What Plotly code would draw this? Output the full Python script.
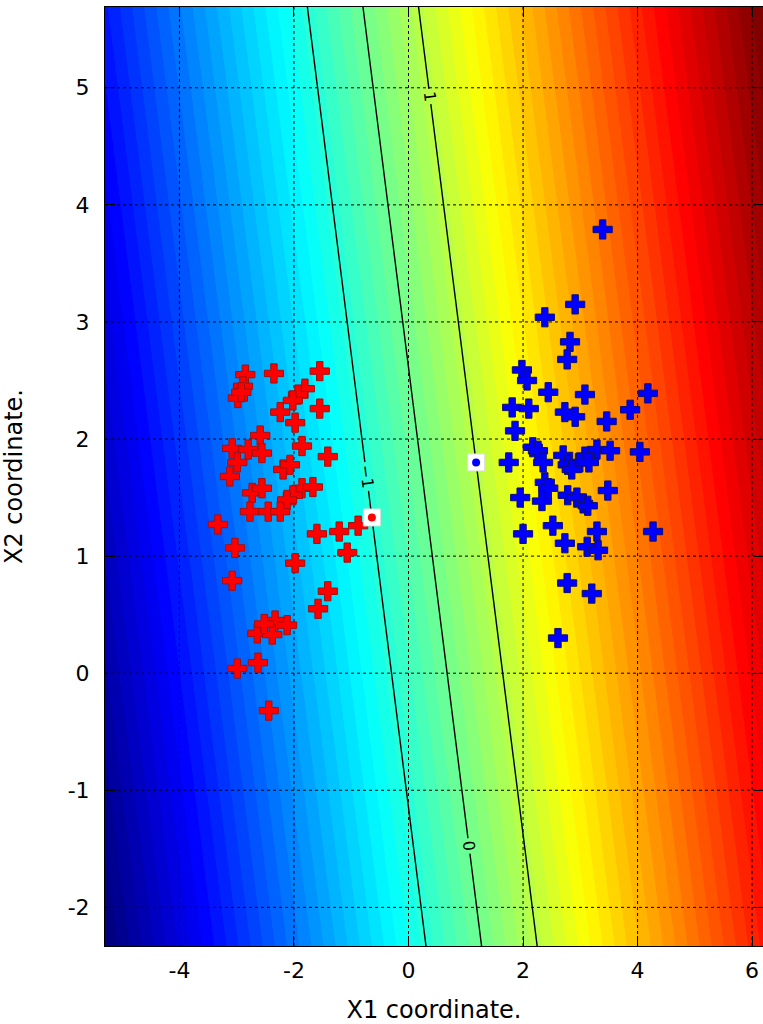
import numpy as np
import plotly.graph_objects as go

# ---------------- data ----------------
red_x = [-2.85, -2.35, -1.55, -2.89, -2.98, -2.92, -1.81, -1.93, -2.02, -2.24,
         -1.55, -1.98, -2.59, -3.08, -2.80, -2.56, -1.86, -1.41, -2.99, -3.12,
         -2.19, -2.07, -2.73, -2.56, -1.86, -1.67, -2.02, -2.12, -2.77, -2.45,
         -2.24, -3.33, -1.60, -1.21, -0.88, -3.03, -1.07, -1.98, -3.08, -1.41,
         -1.58, -2.33, -2.12, -2.64, -2.38, -2.52, -2.63, -2.99, -2.44]
red_y = [2.55, 2.56, 2.58, 2.45, 2.35, 2.40, 2.43, 2.38, 2.33, 2.23,
         2.26, 2.14, 2.03, 1.92, 1.91, 1.88, 1.94, 1.85, 1.80, 1.68,
         1.74, 1.78, 1.54, 1.58, 1.58, 1.59, 1.52, 1.48, 1.38, 1.38,
         1.38, 1.27, 1.19, 1.21, 1.26, 1.07, 1.03, 0.94, 0.79, 0.70,
         0.55, 0.45, 0.41, 0.34, 0.33, 0.42, 0.09, 0.04, -0.32]

blue_x = [3.39, 2.91, 2.38, 2.82, 2.77, 1.98, 2.07, 2.44, 3.08, 4.18,
          1.81, 2.10, 2.73, 2.91, 3.87, 3.46, 1.86, 2.17, 2.26, 2.70,
          3.29, 3.52, 4.04, 3.08, 2.99, 2.35, 2.78, 3.15, 1.75, 2.85,
          2.38, 2.44, 3.48, 1.95, 2.33, 2.78, 2.94, 3.05, 3.13, 2.52,
          3.29, 2.00, 4.27, 2.73, 3.12, 3.31, 2.77, 3.20, 2.61]
blue_y = [3.79, 3.15, 3.04, 2.83, 2.68, 2.59, 2.50, 2.40, 2.38, 2.39,
          2.27, 2.26, 2.23, 2.19, 2.25, 2.15, 2.07, 1.93, 1.90, 1.86,
          1.91, 1.90, 1.89, 1.85, 1.80, 1.80, 1.78, 1.80, 1.80, 1.74,
          1.63, 1.58, 1.56, 1.50, 1.47, 1.52, 1.50, 1.45, 1.43, 1.26,
          1.21, 1.19, 1.21, 1.11, 1.08, 1.05, 0.77, 0.68, 0.30]

# support vectors (white squares)
sv_x = [-0.64, 1.18]
sv_y = [1.33, 1.80]
sv_colors = ["#ff0000", "#0000ff"]

# decision-function contour levels drawn as lines
contour_levels = [-1, 0, 1]
n_color_levels = 64

x_range = [-5.30, 6.19]
y_range = [-2.33, 5.69]
x_tick_vals = [-4, -2, 0, 2, 4, 6]
x_tick_text = ["-4", "-2", "0", "2", "4", "6"]
y_tick_vals = [-2, -1, 0, 1, 2, 3, 4, 5]
y_tick_text = ["-2", "-1", "0", "1", "2", "3", "4", "5"]

x_title = "X1 coordinate."
y_title = "X2 coordinate."

# ---------------- linear SVM decision function from the two support vectors ----------------
p_r = np.array([sv_x[0], sv_y[0]])
p_b = np.array([sv_x[1], sv_y[1]])
d = p_b - p_r
w = 2 * d / np.dot(d, d)
mid = (p_b + p_r) / 2

gx = np.linspace(x_range[0], x_range[1], 160)
gy = np.linspace(y_range[0], y_range[1], 160)
GX, GY = np.meshgrid(gx, gy)
Z = w[0] * (GX - mid[0]) + w[1] * (GY - mid[1])
zmin, zmax = float(Z.min()), float(Z.max())
step = (zmax - zmin) / n_color_levels

jet = [[0.0, "rgb(0,0,128)"], [0.125, "rgb(0,0,255)"], [0.375, "rgb(0,255,255)"],
       [0.5, "rgb(128,255,128)"], [0.625, "rgb(255,255,0)"], [0.875, "rgb(255,0,0)"],
       [1.0, "rgb(128,0,0)"]]

fig = go.Figure()

fig.add_trace(go.Contour(
    x=gx, y=gy, z=Z, colorscale=jet, zmin=zmin, zmax=zmax, zauto=False,
    autocontour=False,
    contours=dict(start=zmin + step, end=zmax - step * 0.5, size=step,
                  coloring="fill", showlines=False),
    line=dict(width=0), showscale=False, hoverinfo="skip"))

# dotted grid drawn above the colour field
gxs, gys = [], []
for v in x_tick_vals:
    gxs += [v, v, None]
    gys += [y_range[0], y_range[1], None]
for v in y_tick_vals:
    gxs += [x_range[0], x_range[1], None]
    gys += [v, v, None]
fig.add_trace(go.Scatter(x=gxs, y=gys, mode="lines",
                         line=dict(color="black", width=1, dash="dot"),
                         hoverinfo="skip", showlegend=False))

fig.add_trace(go.Contour(
    x=gx, y=gy, z=Z, autocontour=False,
    contours=dict(start=min(contour_levels), end=max(contour_levels), size=1,
                  coloring="none", showlabels=True,
                  labelfont=dict(size=16, color="black", family="DejaVu Sans")),
    line=dict(color="black", width=1.4), showscale=False, hoverinfo="skip"))

fig.add_trace(go.Scatter(x=red_x, y=red_y, mode="markers",
                         marker=dict(symbol="cross", size=16, color="#ff0000",
                                     line=dict(color="#a01010", width=1)),
                         showlegend=False))
fig.add_trace(go.Scatter(x=blue_x, y=blue_y, mode="markers",
                         marker=dict(symbol="cross", size=16, color="#0000ff",
                                     line=dict(color="#10106a", width=1)),
                         showlegend=False))

fig.add_trace(go.Scatter(x=sv_x, y=sv_y, mode="markers",
                         marker=dict(symbol="square", size=17, color="white",
                                     line=dict(color="#dddddd", width=1)),
                         showlegend=False))
fig.add_trace(go.Scatter(x=sv_x, y=sv_y, mode="markers",
                         marker=dict(symbol="circle", size=8, color=sv_colors),
                         showlegend=False))

font = dict(family="DejaVu Sans", size=22, color="black")
fig.update_layout(
    width=763, height=1024,
    margin=dict(l=105, r=0, t=7, b=78, autoexpand=False),
    paper_bgcolor="white", plot_bgcolor="white",
    font=font, showlegend=False,
    xaxis=dict(range=x_range, tickvals=x_tick_vals, ticktext=x_tick_text,
               ticks="inside", ticklen=10, tickcolor="black", tickwidth=1,
               showline=True, linecolor="black", linewidth=1, mirror="ticks",
               showgrid=False, zeroline=False, layer="above traces",
               ticklabelstandoff=5, automargin=False,
               title=dict(text=x_title, font=dict(size=24, family="DejaVu Sans"),
                          standoff=20)),
    yaxis=dict(range=y_range, tickvals=y_tick_vals, ticktext=y_tick_text,
               ticks="inside", ticklen=10, tickcolor="black", tickwidth=1,
               showline=True, linecolor="black", linewidth=1, mirror="ticks",
               showgrid=False, zeroline=False, layer="above traces",
               ticklabelstandoff=10, automargin=False,
               title=dict(text=y_title, font=dict(size=24, family="DejaVu Sans"),
                          standoff=40)),
)

fig.write_html("out.html",
               config={"displayModeBar": False},
               post_script="document.body.style.margin='0px';"
                           "document.body.style.overflow='hidden';")
